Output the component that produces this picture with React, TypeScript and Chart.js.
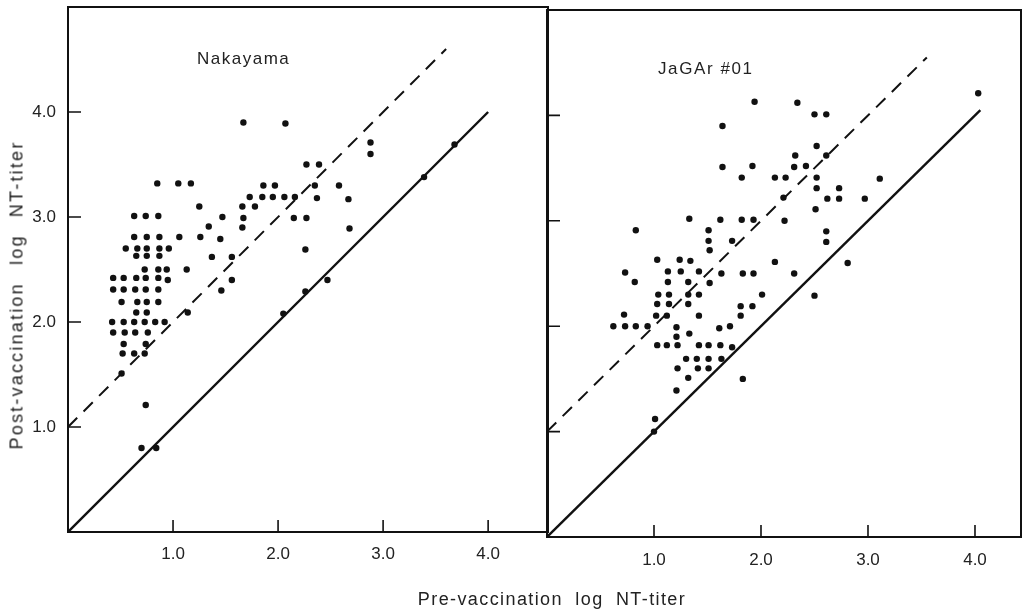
import React, { useEffect, useRef } from 'react';
import { Chart, registerables } from 'chart.js';

Chart.register(...registerables);

// ---- axis ticks ----
const TICK_VALUES = [1, 2, 3, 4];
const TICK_LABELS = ['1.0', '2.0', '3.0', '4.0'];

// ---- Nakayama panel (pre, post) ----
const nakayamaPre = [
  0.85, 1.05, 1.17,
  1.25,
  0.63, 0.74, 0.86,
  0.63, 0.75, 0.87, 1.06, 1.26,
  0.55, 0.66, 0.75, 0.87, 0.96,
  0.65, 0.75, 0.87,
  0.73, 0.86, 0.94, 1.13,
  0.43, 0.53, 0.65, 0.74, 0.86, 0.95,
  0.43, 0.53, 0.64, 0.74, 0.86,
  0.51, 0.66, 0.75, 0.86,
  0.65, 0.75, 1.14,
  0.42, 0.53, 0.63, 0.73, 0.83, 0.92,
  0.43, 0.54, 0.64, 0.76,
  0.53, 0.74,
  0.52, 0.63, 0.73,
  0.51,
  0.74,
  0.70, 0.84,
  1.67, 2.07, 2.88, 2.88, 3.68, 2.27, 2.39,
  1.86, 1.97, 2.35, 2.58,
  1.73, 1.85, 1.95, 2.06, 2.16, 2.37, 2.67,
  1.66, 1.78,
  1.47, 1.67, 2.15, 2.27,
  1.34, 1.66, 2.68,
  1.45, 2.26, 1.37, 1.56, 1.56, 2.47, 1.46, 2.26, 2.05, 3.39,
];
const nakayamaPost = [
  3.32, 3.32, 3.32,
  3.10,
  3.01, 3.01, 3.01,
  2.81, 2.81, 2.81, 2.81, 2.81,
  2.70, 2.70, 2.70, 2.70, 2.70,
  2.63, 2.63, 2.63,
  2.50, 2.50, 2.50, 2.50,
  2.42, 2.42, 2.42, 2.42, 2.42, 2.40,
  2.31, 2.31, 2.31, 2.31, 2.31,
  2.19, 2.19, 2.19, 2.19,
  2.09, 2.09, 2.09,
  2.00, 2.00, 2.00, 2.00, 2.00, 2.00,
  1.90, 1.90, 1.90, 1.90,
  1.79, 1.79,
  1.70, 1.70, 1.70,
  1.51,
  1.21,
  0.80, 0.80,
  3.90, 3.89, 3.71, 3.60, 3.69, 3.50, 3.50,
  3.30, 3.30, 3.30, 3.30,
  3.19, 3.19, 3.19, 3.19, 3.19, 3.18, 3.17,
  3.10, 3.10,
  3.00, 2.99, 2.99, 2.99,
  2.91, 2.90, 2.89,
  2.79, 2.69, 2.62, 2.62, 2.40, 2.40, 2.30, 2.29, 2.08, 3.38,
];

// ---- JaGAr #01 panel (pre, post) ----
const jagarPre = [
  1.94, 2.34, 4.03,
  2.50, 2.61,
  1.64,
  2.52,
  2.32, 2.61,
  1.64, 1.92, 2.31, 2.42,
  1.82, 2.13, 2.23, 2.52, 3.11,
  2.52, 2.73,
  2.21, 2.62, 2.73, 2.97,
  2.51,
  1.33, 1.62, 1.82, 1.93, 2.22,
  0.83, 1.51, 2.61,
  1.51, 1.73, 2.61,
  1.52,
  1.03, 1.24, 1.34, 2.13, 2.81,
  0.73, 1.13, 1.25, 1.42, 1.63, 1.83, 1.93, 2.31,
  0.82, 1.13, 1.32, 1.52,
  1.04, 1.14, 1.32, 1.42, 2.01, 2.50,
  1.03, 1.14, 1.32, 1.81, 1.92,
  0.72, 1.02, 1.12, 1.42, 1.81,
  0.62, 0.73, 0.83, 0.94, 1.21, 1.61, 1.71,
  1.21, 1.33,
  1.03, 1.12, 1.22, 1.42, 1.51, 1.62, 1.73,
  1.30, 1.40, 1.51, 1.63,
  1.22, 1.41, 1.51,
  1.32, 1.83,
  1.21,
  1.01, 1.00,
];
const jagarPost = [
  4.13, 4.12, 4.21,
  4.01, 4.01,
  3.90,
  3.71,
  3.62, 3.62,
  3.51, 3.52, 3.51, 3.52,
  3.41, 3.41, 3.41, 3.41, 3.40,
  3.31, 3.31,
  3.22, 3.21, 3.21, 3.21,
  3.11,
  3.02, 3.01, 3.01, 3.01, 3.00,
  2.91, 2.91, 2.90,
  2.81, 2.81, 2.80,
  2.72,
  2.63, 2.63, 2.62, 2.61, 2.60,
  2.51, 2.52, 2.52, 2.52, 2.50, 2.50, 2.50, 2.50,
  2.42, 2.42, 2.42, 2.41,
  2.30, 2.30, 2.30, 2.30, 2.30, 2.29,
  2.21, 2.21, 2.21, 2.19, 2.19,
  2.11, 2.10, 2.10, 2.10, 2.10,
  2.00, 2.00, 2.00, 2.00, 1.99, 1.98, 2.00,
  1.90, 1.93,
  1.82, 1.82, 1.82, 1.82, 1.82, 1.82, 1.80,
  1.69, 1.69, 1.69, 1.69,
  1.60, 1.60, 1.60,
  1.51, 1.50,
  1.39,
  1.12, 1.00,
];

// ---- reference lines ----
const nakayamaSolidX = [0, 4.0];
const nakayamaSolidY = [0, 4.0];
const nakayamaDashX = [0, 3.6];
const nakayamaDashY = [1.0, 4.6];
const jagarSolidX = [0, 4.05];
const jagarSolidY = [0, 4.05];
const jagarDashX = [0, 3.55];
const jagarDashY = [1.0, 4.55];

const FONT = "'Liberation Sans', Arial, sans-serif";
const INK = '#111';
const TEXT = '#222';

const zip = (xs: number[], ys: number[]) => xs.map((x, i) => ({ x, y: ys[i] }));

const framePlugin = {
  id: 'frame',
  afterDatasetsDraw(chart: any) {
    const { ctx, chartArea: a, scales } = chart;
    ctx.save();
    ctx.strokeStyle = INK;
    ctx.lineWidth = 2;
    ctx.strokeRect(a.left, a.top, a.right - a.left, a.bottom - a.top);
    ctx.lineWidth = 1.6;
    ctx.beginPath();
    TICK_VALUES.forEach((v) => {
      const px = scales.x.getPixelForValue(v);
      ctx.moveTo(px, a.bottom);
      ctx.lineTo(px, a.bottom - 12);
      const py = scales.y.getPixelForValue(v);
      ctx.moveTo(a.left, py);
      ctx.lineTo(a.left + 13, py);
    });
    ctx.stroke();
    ctx.restore();
  },
};

type PanelProps = {
  pre: number[];
  post: number[];
  solidX: number[];
  solidY: number[];
  dashX: number[];
  dashY: number[];
  xMax: number;
  yMax: number;
  yAxisWidth: number;
  xAxisHeight: number;
  padTop: number;
  padRight: number;
  showYLabels: boolean;
  left: number;
  width: number;
  labelPad: number;
};

function Panel(p: PanelProps) {
  const ref = useRef<HTMLCanvasElement | null>(null);
  useEffect(() => {
    if (!ref.current) return;
    const tickFont = { family: FONT, size: 17 };
    const chart = new Chart(ref.current, {
      type: 'scatter',
      data: {
        datasets: [
          {
            data: zip(p.pre, p.post),
            backgroundColor: INK,
            borderWidth: 0,
            pointRadius: 3.2,
            showLine: false,
          },
          {
            data: zip(p.solidX, p.solidY),
            showLine: true,
            borderColor: INK,
            borderWidth: 2.4,
            pointRadius: 0,
          },
          {
            data: zip(p.dashX, p.dashY),
            showLine: true,
            borderColor: INK,
            borderWidth: 2,
            borderDash: [13, 9],
            pointRadius: 0,
          },
        ],
      } as any,
      options: {
        animation: false,
        responsive: false,
        devicePixelRatio: 1,
        events: [],
        layout: { padding: { top: p.padTop, right: p.padRight, left: 0, bottom: 0 } },
        plugins: { legend: { display: false }, tooltip: { enabled: false } },
        scales: {
          x: {
            type: 'linear',
            min: 0,
            max: p.xMax,
            grid: { display: false },
            border: { display: false },
            afterBuildTicks: (s: any) => {
              s.ticks = TICK_VALUES.map((value) => ({ value }));
            },
            afterFit: (s: any) => {
              s.height = p.xAxisHeight;
              s.paddingLeft = 0;
              s.paddingRight = 0;
              s.paddingTop = 0;
              s.paddingBottom = 0;
            },
            ticks: {
              autoSkip: false,
              maxRotation: 0,
              padding: p.labelPad,
              color: TEXT,
              font: tickFont,
              callback: (_v: any, i: number) => TICK_LABELS[i],
            },
          },
          y: {
            type: 'linear',
            min: 0,
            max: p.yMax,
            grid: { display: false },
            border: { display: false },
            afterBuildTicks: (s: any) => {
              s.ticks = TICK_VALUES.map((value) => ({ value }));
            },
            afterFit: (s: any) => {
              s.width = p.yAxisWidth;
              s.paddingLeft = 0;
              s.paddingRight = 0;
              s.paddingTop = 0;
              s.paddingBottom = 0;
            },
            ticks: {
              display: p.showYLabels,
              padding: 4,
              color: TEXT,
              font: tickFont,
              callback: (_v: any, i: number) => TICK_LABELS[i],
            },
          },
        },
      } as any,
      plugins: [framePlugin],
    });
    return () => chart.destroy();
  }, []);
  return (
    <canvas
      ref={ref}
      width={p.width}
      height={612}
      style={{ position: 'absolute', left: p.left, top: 0, width: p.width, height: 612 }}
    />
  );
}

const textBase: React.CSSProperties = {
  position: 'absolute',
  fontFamily: FONT,
  color: TEXT,
  whiteSpace: 'nowrap',
  lineHeight: '17px',
};

export default function App() {
  return (
    <div
      style={{
        position: 'absolute',
        left: 0,
        top: 0,
        width: 1034,
        height: 612,
        background: '#fff',
        overflow: 'hidden',
      }}
    >
      <Panel
        pre={nakayamaPre}
        post={nakayamaPost}
        solidX={nakayamaSolidX}
        solidY={nakayamaSolidY}
        dashX={nakayamaDashX}
        dashY={nakayamaDashY}
        xMax={4.57}
        yMax={5.0}
        yAxisWidth={68}
        xAxisHeight={80}
        padTop={7}
        padRight={4}
        showYLabels={true}
        left={0}
        width={552}
        labelPad={4}
      />
      <Panel
        pre={jagarPre}
        post={jagarPost}
        solidX={jagarSolidX}
        solidY={jagarSolidY}
        dashX={jagarDashX}
        dashY={jagarDashY}
        xMax={4.43}
        yMax={5.0}
        yAxisWidth={65}
        xAxisHeight={75}
        padTop={10}
        padRight={13}
        showYLabels={false}
        left={482}
        width={552}
        labelPad={5}
      />
      <div style={{ ...textBase, left: 197, top: 50, fontSize: 17, letterSpacing: '1.5px' }}>Nakayama</div>
      <div style={{ ...textBase, left: 658, top: 60, fontSize: 17, letterSpacing: '1.6px' }}>JaGAr #01</div>
      <div
        style={{
          ...textBase,
          left: 17,
          top: 295,
          fontSize: 18,
          letterSpacing: '2.2px',
          wordSpacing: '10px',
          transform: 'translate(-50%, -50%) rotate(-90deg)',
        }}
      >
        Post-vaccination log NT-titer
      </div>
      <div
        style={{
          ...textBase,
          left: 552,
          top: 599,
          fontSize: 18,
          letterSpacing: '1.4px',
          wordSpacing: '6px',
          transform: 'translate(-50%, -50%)',
        }}
      >
        Pre-vaccination log NT-titer
      </div>
    </div>
  );
}
